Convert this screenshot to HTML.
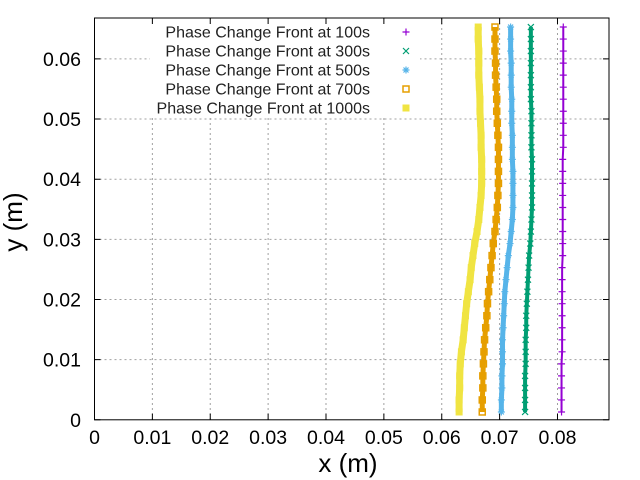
<!DOCTYPE html>
<html><head><meta charset="utf-8"><style>
html,body{margin:0;padding:0;background:#fff;}
svg{display:block;font-family:"Liberation Sans",sans-serif;}
</style></head><body>
<svg id="chart" width="640" height="480" viewBox="0 0 640 480" xmlns="http://www.w3.org/2000/svg">
<rect width="640" height="480" fill="#fff"/>
<g id="grid"></g>
<g id="series"></g>
<g id="legend"></g>
<g id="axes"></g>
<text x="348" y="472" font-size="26" text-anchor="middle">x (m)</text>
<text transform="translate(22,222) rotate(-90)" font-size="26" text-anchor="middle">y (m)</text>
</svg>
<script>
const xTicks = [0,0.01,0.02,0.03,0.04,0.05,0.06,0.07,0.08];
const xTickLabels = ["0","0.01","0.02","0.03","0.04","0.05","0.06","0.07","0.08"];
const yTicks = [0,0.01,0.02,0.03,0.04,0.05,0.06];
const yTickLabels = ["0","0.01","0.02","0.03","0.04","0.05","0.06"];
const seriesNames = ["Phase Change Front at 100s","Phase Change Front at 300s","Phase Change Front at 500s","Phase Change Front at 700s","Phase Change Front at 1000s"];
const yValues = [0.0013,0.0033,0.0053,0.0073,0.0093,0.0113,0.0133,0.0153,0.0173,0.0193,0.0213,0.0233,0.0253,0.0273,0.0293,0.0313,0.0333,0.0353,0.0373,0.0393,0.0413,0.0433,0.0453,0.0473,0.0493,0.0513,0.0533,0.0553,0.0573,0.0593,0.0613,0.0633,0.0653];
const x100s = [0.0807,0.0807,0.0807,0.0807,0.0807,0.0808,0.0808,0.0808,0.0808,0.0808,0.0808,0.0808,0.0808,0.0809,0.0809,0.0809,0.0809,0.0809,0.0809,0.0809,0.0809,0.0809,0.0810,0.0810,0.0810,0.0810,0.0810,0.0810,0.0810,0.0810,0.0810,0.0810,0.0810];
const x300s = [0.0744,0.0744,0.0744,0.0744,0.0745,0.0745,0.0745,0.0746,0.0746,0.0747,0.0748,0.0749,0.0750,0.0751,0.0753,0.0754,0.0755,0.0756,0.0756,0.0756,0.0756,0.0756,0.0755,0.0755,0.0755,0.0755,0.0754,0.0754,0.0754,0.0754,0.0754,0.0754,0.0754];
const x500s = [0.0703,0.0703,0.0704,0.0704,0.0705,0.0705,0.0705,0.0706,0.0707,0.0708,0.0709,0.0711,0.0713,0.0715,0.0718,0.0720,0.0722,0.0723,0.0723,0.0723,0.0723,0.0722,0.0722,0.0722,0.0721,0.0721,0.0721,0.0720,0.0720,0.0720,0.0719,0.0719,0.0719];
const x700s = [0.0670,0.0670,0.0671,0.0671,0.0672,0.0673,0.0674,0.0676,0.0678,0.0679,0.0681,0.0683,0.0685,0.0687,0.0689,0.0692,0.0694,0.0696,0.0697,0.0698,0.0698,0.0698,0.0698,0.0697,0.0696,0.0695,0.0695,0.0694,0.0693,0.0693,0.0692,0.0692,0.0692];
const x1000s = [0.0630,0.0630,0.0631,0.0631,0.0632,0.0634,0.0637,0.0639,0.0641,0.0643,0.0646,0.0649,0.0651,0.0654,0.0657,0.0661,0.0664,0.0666,0.0668,0.0669,0.0669,0.0669,0.0668,0.0668,0.0667,0.0666,0.0666,0.0665,0.0664,0.0664,0.0664,0.0663,0.0663];

const NS="http://www.w3.org/2000/svg";
const L=94.5,R=609,T=18,B=419.8;
const XMAX=0.0889,YMAX=0.0668;
const sx=v=>L+v/XMAX*(R-L);
const sy=v=>B-v/YMAX*(B-T);
function mk(tag,attrs,parent){const e=document.createElementNS(NS,tag);for(const k in attrs)e.setAttribute(k,attrs[k]);parent.appendChild(e);return e;}
const grid=document.getElementById('grid'),axes=document.getElementById('axes'),ser=document.getElementById('series'),leg=document.getElementById('legend');

xTicks.forEach((t,i)=>{
  const x=sx(t);
  if(i>0){const g=mk('line',{x1:x,x2:x,y1:T,y2:B,stroke:'#a0a0a0','stroke-width':1,'stroke-dasharray':'2,3'},grid);
  
  }
  const tk=mk('path',{d:`M${x},${B}v-6M${x},${T}v6`,stroke:'#000','stroke-width':1},axes);
  
  
  const lb=mk('text',{x:x,y:444,'font-size':19.5,'text-anchor':'middle'},axes);
  lb.textContent=xTickLabels[i];
  
  
});
yTicks.forEach((t,i)=>{
  const y=sy(t);
  if(i>0){const g=mk('line',{x1:L,x2:R,y1:y,y2:y,stroke:'#a0a0a0','stroke-width':1,'stroke-dasharray':'2,3'},grid);
  
  }
  const tk=mk('path',{d:`M${L},${y}h6M${R},${y}h-6`,stroke:'#000','stroke-width':1},axes);
  
  
  const lb=mk('text',{x:81,y:y+7,'font-size':19.5,'text-anchor':'end'},axes);
  lb.textContent=yTickLabels[i];
  
  
});
const frame=mk('rect',{x:L,y:T,width:R-L,height:B-T,fill:'none',stroke:'#000','stroke-width':1},axes);



const colors=['#9400d3','#009e73','#56b4e9','#e69f00','#f0e442'];
const widths=[2,4,5,5,7];
const allX=[x100s,x300s,x500s,x700s,x1000s];
function marker(k,x,y,parent){
  const c=colors[k];
  if(k===0) return mk('path',{d:`M${x-3.5},${y}h7M${x},${y-3.5}v7`,stroke:c,'stroke-width':1.2,fill:'none'},parent);
  if(k===1) return mk('path',{d:`M${x-3},${y-3}l6,6M${x-3},${y+3}l6,-6`,stroke:c,'stroke-width':1.2,fill:'none'},parent);
  if(k===2) return mk('path',{d:`M${x-3.5},${y}h7M${x},${y-3.5}v7M${x-2.5},${y-2.5}l5,5M${x-2.5},${y+2.5}l5,-5`,stroke:c,'stroke-width':1.2,fill:'none'},parent);
  if(k===3) return mk('rect',{x:x-3,y:y-3,width:6,height:6,stroke:c,'stroke-width':1.5,fill:'none'},parent);
  return mk('rect',{x:x-3.5,y:y-3.5,width:7,height:7,fill:c},parent);
}
for(let k=4;k>=0;k--){
  const xs=allX[k];
  const g=mk('g',{},ser);
  
  
  const pts=xs.map((v,i)=>sx(v)+','+sy(yValues[i])).join(' ');
  const pl=mk('polyline',{points:pts,fill:'none',stroke:colors[k],'stroke-width':widths[k]},g);
  
  
  xs.forEach((v,i)=>{
    const m=marker(k,sx(v),sy(yValues[i]),g);
    
    
  });
}
const bg=mk('rect',{x:150,y:19,width:270,height:97,fill:'#fff'},leg);


[0,1,2,3,4].forEach((k,i)=>{
  const y=32+i*19;
  const e=mk('g',{},leg);
  
  
  const t=mk('text',{x:370,y:y+5.5,'font-size':16,'text-anchor':'end',fill:'#222'},e);
  t.textContent=seriesNames[k];
  
  
  const m=marker(k,406,y,e);
  
  
});
</script>
</body></html>
